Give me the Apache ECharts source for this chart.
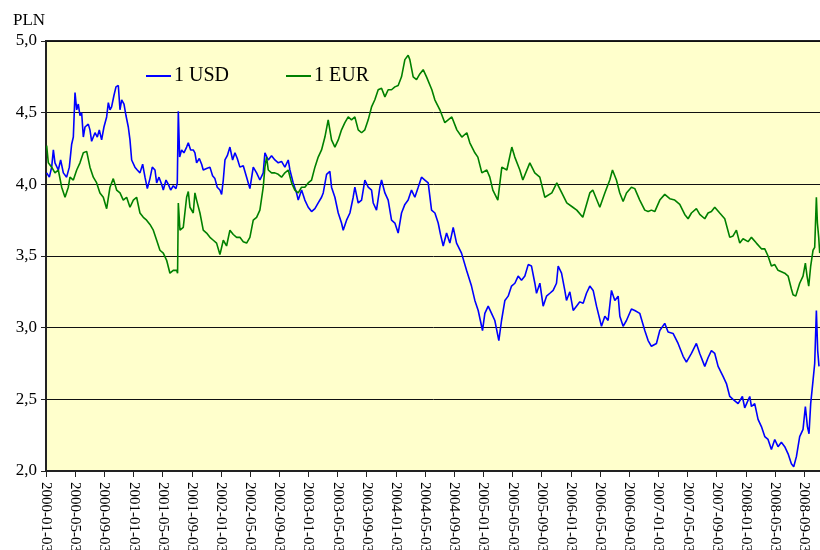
<!DOCTYPE html>
<html><head><meta charset="utf-8">
<script src="https://cdn.jsdelivr.net/npm/echarts@6/dist/echarts.min.js"></script>
<style>html,body{margin:0;padding:0;background:#fff}#c{width:820px;height:550px}</style>
</head><body><div id="c"></div>
<script>
// x positions are months elapsed since 2000-01-03
const tickLabels = ['2000-01-03','2000-05-03','2000-09-03','2001-01-03','2001-05-03','2001-09-03','2002-01-03','2002-05-03','2002-09-03','2003-01-03','2003-05-03','2003-09-03','2004-01-03','2004-05-03','2004-09-03','2005-01-03','2005-05-03','2005-09-03','2006-01-03','2006-05-03','2006-09-03','2007-01-03','2007-05-03','2007-09-03','2008-01-03','2008-05-03','2008-09-03'];
const yTickLabels = {2:'2,0',2.5:'2,5',3:'3,0',3.5:'3,5',4:'4,0',4.5:'4,5',5:'5,0'};
const seriesNames = ['1 USD','1 EUR'];

const usd = [
[0.09,4.08],[0.46,4.05],[0.78,4.12],[1.01,4.24],[1.23,4.15],[1.69,4.10],[2.01,4.17],[2.38,4.08],[2.83,4.05],[3.20,4.12],[3.52,4.28],[3.75,4.33],[3.98,4.64],[4.21,4.52],[4.43,4.56],[4.66,4.48],[4.89,4.50],[5.12,4.33],[5.35,4.40],[5.80,4.42],[6.03,4.38],[6.26,4.30],[6.72,4.36],[7.04,4.33],[7.31,4.38],[7.63,4.31],[7.95,4.40],[8.32,4.47],[8.55,4.57],[8.78,4.52],[9.00,4.54],[9.32,4.62],[9.60,4.68],[9.92,4.69],[10.15,4.52],[10.38,4.59],[10.70,4.56],[10.97,4.48],[11.29,4.40],[11.52,4.31],[11.75,4.17],[12.20,4.12],[12.52,4.10],[12.89,4.08],[13.26,4.14],[13.58,4.05],[13.90,3.97],[14.26,4.04],[14.58,4.12],[14.95,4.10],[15.18,4.01],[15.50,4.05],[15.86,4.00],[16.09,3.96],[16.46,4.03],[16.78,4.00],[17.10,3.96],[17.46,3.99],[17.83,3.97],[18.01,4.01],[18.15,4.51],[18.33,4.19],[18.60,4.24],[18.92,4.22],[19.29,4.26],[19.52,4.29],[19.84,4.24],[20.20,4.24],[20.43,4.22],[20.66,4.15],[21.03,4.18],[21.35,4.14],[21.57,4.10],[22.03,4.11],[22.49,4.12],[22.85,4.06],[23.17,4.04],[23.49,3.98],[23.86,3.96],[24.09,3.93],[24.32,4.03],[24.55,4.17],[24.87,4.20],[25.23,4.26],[25.60,4.17],[25.92,4.22],[26.24,4.18],[26.60,4.12],
[27.06,4.13],[27.52,4.05],[27.97,3.97],[28.43,4.12],[28.89,4.08],[29.34,4.03],[29.80,4.08],[30.03,4.22],[30.49,4.17],[30.94,4.20],[31.40,4.17],[31.86,4.15],[32.31,4.16],[32.77,4.12],[33.23,4.17],[33.46,4.10],[33.91,4.01],[34.37,3.94],[34.60,3.89],[35.06,3.96],[35.51,3.89],[35.97,3.84],[36.43,3.81],[36.89,3.83],[37.34,3.87],[37.80,3.91],[38.03,3.94],[38.49,4.07],[38.94,4.09],[39.17,3.98],[39.63,3.91],[40.09,3.80],[40.54,3.73],[40.77,3.68],[41.23,3.75],[41.69,3.80],[42.14,3.91],[42.37,3.98],[42.83,3.87],[43.29,3.89],[43.74,4.03],[44.20,3.98],[44.66,3.96],[44.89,3.87],[45.34,3.82],[45.80,3.98],[46.03,4.03],[46.49,3.94],[46.94,3.89],[47.40,3.75],[47.86,3.73],[48.31,3.66],[48.77,3.80],[49.23,3.86],[49.68,3.89],[50.14,3.96],[50.60,3.91],[51.06,3.98],[51.51,4.05],[51.97,4.03],[52.43,4.01],
[52.89,3.82],[53.35,3.80],[53.80,3.73],[54.12,3.65],[54.49,3.57],[54.95,3.66],[55.40,3.59],[55.86,3.70],[56.32,3.59],[57.00,3.52],[57.69,3.40],[58.37,3.29],[58.83,3.19],[59.29,3.12],[59.88,2.98],[60.20,3.10],[60.66,3.15],[61.12,3.10],[61.57,3.05],[62.12,2.91],[62.49,3.05],[62.95,3.19],[63.40,3.22],[63.86,3.29],[64.32,3.31],[64.77,3.36],[65.23,3.33],[65.69,3.36],[66.15,3.44],[66.60,3.43],[67.06,3.31],[67.29,3.24],[67.75,3.31],[68.20,3.15],[68.66,3.22],[69.12,3.24],[69.57,3.26],[70.03,3.31],[70.26,3.43],[70.72,3.38],[71.17,3.26],[71.40,3.19],[71.86,3.25],[72.32,3.12],[72.77,3.15],[73.23,3.18],[73.69,3.17],[74.14,3.24],[74.60,3.29],[75.06,3.26],[75.52,3.15],[76.20,3.01],[76.66,3.08],[77.11,3.05],[77.57,3.26],[78.03,3.19],[78.49,3.22],[78.72,3.08],
[79.17,3.01],[79.63,3.05],[80.31,3.13],[80.77,3.12],[81.45,3.10],[82.14,2.98],[82.60,2.91],[83.05,2.87],[83.74,2.89],[84.20,2.98],[84.88,3.03],[85.34,2.97],[86.02,2.96],[86.71,2.89],[87.40,2.80],[87.85,2.76],[88.54,2.82],[89.22,2.89],[89.68,2.82],[90.37,2.73],[90.82,2.79],[91.28,2.84],[91.74,2.82],[92.20,2.73],[92.88,2.66],[93.34,2.61],[93.80,2.52],[94.25,2.50],[94.94,2.47],[95.53,2.52],[95.85,2.44],[96.54,2.52],[96.77,2.45],[97.22,2.47],[97.68,2.36],[98.14,2.31],[98.60,2.24],[99.05,2.22],[99.51,2.15],[99.97,2.22],[100.42,2.17],[100.88,2.20],[101.34,2.17],[101.80,2.12],[102.25,2.05],[102.57,2.03],[102.94,2.10],[103.39,2.24],[103.85,2.29],[104.17,2.45],[104.45,2.31],[104.67,2.26],[104.90,2.47],[105.22,2.63],[105.45,2.75],[105.68,3.12],[105.86,2.84],[106.04,2.73]
];

const eur = [
[0.09,4.27],[0.32,4.15],[0.78,4.12],[1.23,4.08],[1.69,4.10],[2.15,3.98],[2.61,3.91],[3.06,3.98],[3.29,4.05],[3.75,4.03],[4.21,4.10],[4.66,4.15],[5.12,4.22],[5.58,4.23],[6.03,4.12],[6.49,4.05],[6.95,4.01],[7.40,3.94],[7.86,3.91],[8.32,3.83],[8.78,3.98],[9.23,4.04],[9.69,3.96],[10.15,3.94],[10.60,3.89],[11.06,3.91],[11.52,3.84],[11.98,3.89],[12.43,3.91],[12.89,3.80],[13.35,3.77],[13.80,3.75],[14.26,3.72],[14.72,3.68],[15.18,3.61],[15.63,3.54],[16.09,3.52],[16.55,3.47],[17.00,3.38],[17.46,3.40],[17.92,3.40],[18.05,3.38],[18.15,3.87],[18.38,3.68],[18.83,3.70],[19.29,3.91],[19.52,3.95],[19.75,3.84],[20.20,3.80],[20.43,3.94],[20.66,3.89],[21.12,3.80],[21.57,3.68],[22.03,3.66],[22.49,3.63],[22.95,3.61],[23.40,3.59],[23.86,3.51],[24.32,3.61],[24.77,3.57],[25.23,3.68],[25.69,3.65],[26.15,3.63],[26.60,3.63],
[27.06,3.60],[27.52,3.59],[27.97,3.63],[28.43,3.75],[28.89,3.77],[29.34,3.82],[29.80,3.98],[30.03,4.12],[30.26,4.19],[30.49,4.10],[30.94,4.08],[31.40,4.08],[31.86,4.07],[32.31,4.05],[32.77,4.08],[33.23,4.10],[33.69,4.01],[34.14,3.96],[34.60,3.94],[35.06,3.98],[35.51,3.98],[35.97,4.01],[36.43,4.03],[36.89,4.12],[37.34,4.19],[37.80,4.24],[38.26,4.33],[38.71,4.45],[39.17,4.31],[39.63,4.26],[40.09,4.31],[40.54,4.38],[41.00,4.43],[41.46,4.47],[41.91,4.45],[42.37,4.47],[42.83,4.38],[43.29,4.36],[43.74,4.38],[44.20,4.45],[44.66,4.54],[45.11,4.59],[45.57,4.66],[46.03,4.67],[46.49,4.61],[46.94,4.66],[47.40,4.66],[47.86,4.68],[48.31,4.69],[48.77,4.75],[49.23,4.87],[49.68,4.90],[49.91,4.87],[50.37,4.75],[50.83,4.73],[51.28,4.77],[51.74,4.80],[52.20,4.75],
[52.93,4.66],[53.34,4.59],[54.03,4.52],[54.71,4.43],[55.67,4.47],[56.36,4.38],[57.04,4.33],[57.73,4.36],[58.14,4.29],[58.83,4.22],[59.24,4.19],[59.79,4.08],[60.47,4.10],[60.88,4.05],[61.30,3.96],[61.98,3.89],[62.53,4.12],[63.22,4.10],[63.90,4.26],[64.31,4.19],[65.00,4.10],[65.41,4.03],[66.37,4.15],[67.05,4.08],[67.74,4.05],[68.43,3.91],[69.39,3.94],[70.07,4.01],[70.76,3.94],[71.44,3.87],[72.27,3.84],[72.81,3.82],[73.64,3.77],[74.60,3.94],[75.01,3.96],[75.97,3.84],[76.66,3.94],[77.34,4.03],[77.71,4.10],[78.25,4.03],[78.71,3.94],
[79.17,3.88],[79.63,3.94],[80.31,3.98],[80.77,3.97],[81.45,3.89],[82.14,3.82],[82.60,3.81],[83.05,3.82],[83.51,3.81],[84.20,3.89],[84.88,3.93],[85.57,3.90],[86.25,3.89],[86.94,3.86],[87.62,3.79],[88.08,3.76],[88.54,3.80],[89.22,3.83],[89.68,3.79],[90.37,3.76],[90.82,3.80],[91.28,3.81],[91.74,3.84],[92.42,3.80],[93.11,3.76],[93.80,3.63],[94.25,3.64],[94.71,3.68],[95.17,3.59],[95.62,3.62],[96.31,3.60],[96.77,3.63],[97.45,3.59],[98.14,3.55],[98.60,3.55],[99.05,3.50],[99.51,3.43],[99.97,3.44],[100.42,3.40],[100.88,3.39],[101.34,3.38],[101.80,3.36],[102.25,3.27],[102.48,3.23],[102.85,3.22],[103.39,3.31],[103.85,3.36],[104.17,3.45],[104.40,3.36],[104.63,3.29],[104.90,3.43],[105.22,3.54],[105.45,3.56],[105.68,3.91],[105.82,3.73],[106.00,3.63],[106.14,3.52]
];

const FONT = "'Liberation Serif','Times New Roman',serif";
const chart = echarts.init(document.getElementById('c'), null, {renderer:'canvas'});
chart.setOption({
  animation: false,
  backgroundColor: '#ffffff',
  graphic: [{type:'text', left: 13, top: 12, style:{text:'PLN', font:'17px ' + FONT, fill:'#000'}}],
  legend: {
    left: 141, top: 61, icon: 'rect', itemWidth: 25, itemHeight: 2, itemGap: 57,
    textStyle: {fontFamily: FONT, fontSize: 20, color: '#000', padding:[0,0,0,-2]},
    data: seriesNames
  },
  grid: {left: 46, top: 41, width: 780, height: 430, containLabel: false, outerBoundsMode: 'none',
    show: true, backgroundColor: '#FFFFCC', borderWidth: 2, borderColor: '#222'},
  xAxis: {
    type: 'value', min: 0, max: 107, interval: 4,
    axisLine: {show: true, lineStyle: {color: '#222', width: 2}},
    axisTick: {show: true, length: 6, lineStyle: {color: '#222'}},
    splitLine: {show: false},
    axisLabel: {rotate: -90, margin: 11, fontFamily: FONT, fontSize: 15, color: '#000',
      formatter: v => (v % 4 === 0 && tickLabels[v/4]) ? tickLabels[v/4] : ''}
  },
  yAxis: {
    type: 'value', min: 2, max: 5, interval: 0.5,
    axisLine: {show: true, lineStyle: {color: '#222', width: 2}},
    axisTick: {show: true, length: 5, lineStyle: {color: '#222'}},
    splitLine: {show: true, lineStyle: {color: '#111', width: 1}},
    axisLabel: {margin: 9, fontFamily: FONT, fontSize: 17, color: '#000', formatter: v => yTickLabels[v] || ''}
  },
  series: [
    {name: seriesNames[0], type: 'line', data: usd, showSymbol: false, symbol: 'none', color: '#0000FF', lineStyle: {width: 1.6, color: '#0000FF'}},
    {name: seriesNames[1], type: 'line', data: eur, showSymbol: false, symbol: 'none', color: '#008000', lineStyle: {width: 1.6, color: '#008000'}}
  ]
});
</script></body></html>
